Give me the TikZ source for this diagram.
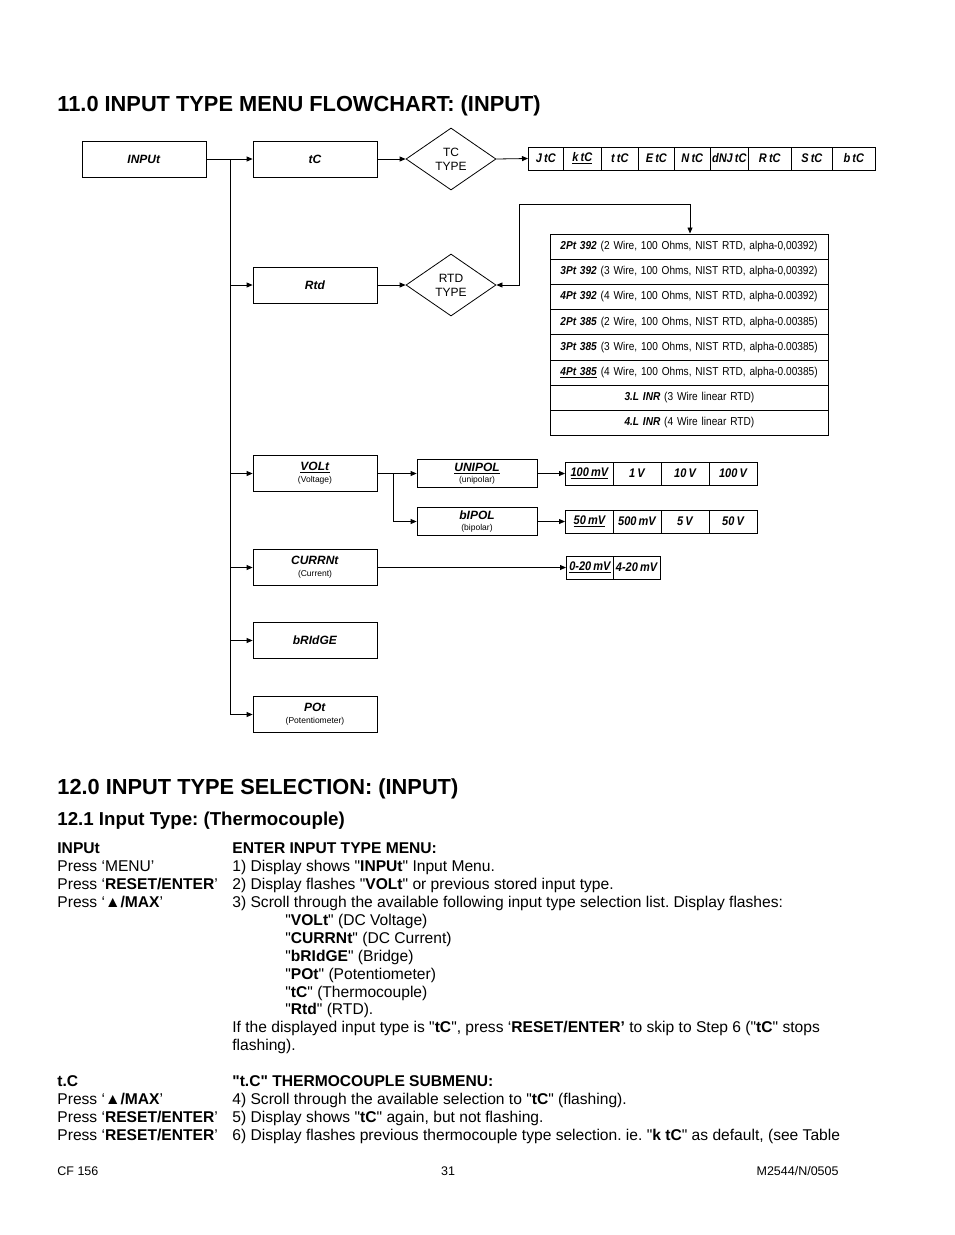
\documentclass[tikz,border=0pt]{standalone}
\usepackage{fontspec}
\setmainfont{Liberation Sans}[Ligatures=TeXOff]
\newfontfamily\narrowfont{Liberation Sans}[FakeStretch=0.88,WordSpace=0.7,Ligatures=TeXOff]
\usetikzlibrary{arrows.meta,shapes.geometric}
\newcommand\fsz[1]{\fontsize{#1}{#1}\selectfont}
\newcommand\bi[1]{\textbf{\textit{#1}}}
\frenchspacing
\begin{document}
\frenchspacing
\begin{tikzpicture}[x=1pt,y=-1pt,line width=0.8pt,
  arr/.style={-{Triangle[length=6pt,width=5pt]}},
  dbl/.style={{Triangle[length=6pt,width=5pt]}-{Triangle[length=6pt,width=5pt]}},
  box/.style={draw,minimum width=124pt,minimum height=36pt,inner sep=1pt,align=center,font=\fontsize{12}{13}\selectfont},
  sbox/.style={draw,minimum width=120pt,minimum height=28pt,inner sep=1pt,align=center,font=\fontsize{12}{12}\selectfont},
  dia/.style={draw,diamond,minimum width=90pt,minimum height=62pt,inner sep=0pt,align=center,font=\fontsize{12}{14}\selectfont},
  cell/.style={draw,minimum height=23pt,inner sep=0pt,anchor=west,font=\narrowfont\fsz{12.5}},
  rrow/.style={draw,text width=258pt,inner xsep=10pt,inner ysep=0pt,minimum height=25.3pt,anchor=north west,font=\narrowfont\fsz{11.5}},
  txt/.style={anchor=base west,inner sep=0pt,font=\fsz{15.6}},
  hd/.style={anchor=base west,inner sep=0pt,font=\bfseries\fsz{21.8}},
  sub/.style={anchor=base west,inner sep=0pt,font=\bfseries\fsz{18.7}},
  foot/.style={anchor=base,inner sep=0pt,font=\fsz{12.5}}]
\useasboundingbox (0,0) rectangle (954,1235);

% headings
\node[hd] (h1) at (57,111) {11.0 INPUT TYPE MENU FLOWCHART: (INPUT)};

% main boxes
\node[box] (input) at (144,159) {\bi{INPUt}};
\node[box] (tc) at (315,159) {\bi{tC}};
\node[dia] (tctype) at (451,159) {TC\\TYPE};
\node[box] (rtd) at (315,285) {\bi{Rtd}};
\node[dia] (rtdtype) at (451,285) {RTD\\TYPE};
\node[box] (volt) at (315,473.5) {\underline{\bi{VOLt}}\\[-1pt]{\fsz{8.5}(Voltage)}};
\node[box] (currnt) at (315,567.5) {\bi{CURRNt}\\[-1pt]{\fsz{8.5}(Current)}};
\node[box] (bridge) at (315,640.5) {\bi{bRIdGE}};
\node[box] (pot) at (315,714.5) {\bi{POt}\\[-1pt]{\fsz{8.5}(Potentiometer)}};

% spine
\coordinate (sp) at (230,159);
\coordinate (spb) at (230,714.5);
\draw[arr] (input.east) -- (tc.west);
\draw (sp) -- (spb);
\foreach \b in {rtd,volt,currnt,bridge,pot}
  \draw[arr] (sp |- \b.west) -- (\b.west);

% TC list
\foreach \a/\c/\t [count=\i] in {528/563/J tC,563/601/\underline{k tC},601/638/t tC,638/674/E tC,674/710/N tC,710/748/dNJ tC,748/791/R tC,791/832/S tC,832/875/b tC}{
  \pgfmathsetmacro\w{\c-\a}
  \node[cell,minimum width=\w pt] (tl\i) at (\a,158.5) {\bi{\t}};
}
\draw[arr] (tc.east) -- (tctype.west);
\draw[arr] (tctype.east) -- (tl1.west);

% RTD list
\foreach \t/\al [count=\i] in {
  {\bi{2Pt 392} (2 Wire, 100 Ohms, NIST RTD, alpha-0,00392)}/left,
  {\bi{3Pt 392} (3 Wire, 100 Ohms, NIST RTD, alpha-0,00392)}/left,
  {\bi{4Pt 392} (4 Wire, 100 Ohms, NIST RTD, alpha-0.00392)}/left,
  {\bi{2Pt 385} (2 Wire, 100 Ohms, NIST RTD, alpha-0.00385)}/left,
  {\bi{3Pt 385} (3 Wire, 100 Ohms, NIST RTD, alpha-0.00385)}/left,
  {\underline{\bi{4Pt 385}} (4 Wire, 100 Ohms, NIST RTD, alpha-0.00385)}/left,
  {\bi{3.L INR} (3 Wire linear RTD)}/center,
  {\bi{4.L INR} (4 Wire linear RTD)}/center}{
  \node[rrow,align=\al] (r\i) at ({550},{233.5+(\i-1)*25.2}) {\t};
}
\draw[arr] (rtd.east) -- (rtdtype.west);
\coordinate (rj) at (519,204);
\coordinate (rtop) at (690,204);
\draw[dbl] (rtdtype.east) -| (rj) -| (rtop |- r1.north);

% Voltage
\node[sbox] (unipol) at (477,473.5) {\underline{\bi{UNIPOL}}\\[-1pt]{\fsz{8.5}(unipolar)}};
\node[sbox] (bipol) at (477,521.5) {\bi{bIPOL}\\[-1pt]{\fsz{8.5}(bipolar)}};
\coordinate (vb) at (393,473.5);
\draw[arr] (volt.east) -- (unipol.west);
\draw[arr] (vb) |- (bipol.west);
\foreach \a/\c/\t [count=\i] in {565/613/\underline{100 mV},613/661/1 V,661/709/10 V,709/757/100 V}{
  \pgfmathsetmacro\w{\c-\a}
  \node[cell,minimum width=\w pt] (u\i) at (\a,473.5) {\bi{\t}};
}
\foreach \a/\c/\t [count=\i] in {565/613/\underline{50 mV},613/661/500 mV,661/709/5 V,709/757/50 V}{
  \pgfmathsetmacro\w{\c-\a}
  \node[cell,minimum width=\w pt] (b\i) at (\a,521.5) {\bi{\t}};
}
\draw[arr] (unipol.east) -- (u1.west);
\draw[arr] (bipol.east) -- (b1.west);

% Current
\foreach \a/\c/\t [count=\i] in {566/613/\underline{0-20 mV},613/660/4-20 mV}{
  \pgfmathsetmacro\w{\c-\a}
  \node[cell,minimum width=\w pt] (c\i) at (\a,567.5) {\bi{\t}};
}
\draw[arr] (currnt.east) -- (c1.west);

% Section 12
\node[hd] (h2) at (57,794) {12.0 INPUT TYPE SELECTION: (INPUT)};
\node[sub] (h3) at (57,825.5) {12.1 Input Type: (Thermocouple)};

\node[txt] (a1) at (57,853.5) {\textbf{INPUt}};
\node[txt] (b1t) at (232,853.5) {\textbf{ENTER INPUT TYPE MENU:}};
\node[txt] (a2) at (57,871.5) {Press ‘MENU’};
\node[txt] (b2t) at (232,871.5) {1) Display shows "\textbf{INPUt}" Input Menu.};
\node[txt] (a3) at (57,889.5) {Press ‘\textbf{RESET/ENTER}’};
\node[txt] (b3t) at (232,889.5) {2) Display flashes "\textbf{VOLt}" or previous stored input type.};
\node[txt] (a4) at (57,907.5) {Press ‘\textbf{▲/MAX}’};
\node[txt] (b4t) at (232,907.5) {3) Scroll through the available following input type selection list. Display flashes:};
\node[txt] (i1) at (285,925.5) {"\textbf{VOLt}" (DC Voltage)};
\node[txt] (i2) at (285,943.5) {"\textbf{CURRNt}" (DC Current)};
\node[txt] (i3) at (285,961.5) {"\textbf{bRIdGE}" (Bridge)};
\node[txt] (i4) at (285,979.5) {"\textbf{POt}" (Potentiometer)};
\node[txt] (i5) at (285,997.5) {"\textbf{tC}" (Thermocouple)};
\node[txt] (i6) at (285,1014.5) {"\textbf{Rtd}" (RTD).};
\node[txt] (p1) at (232,1032.5) {If the displayed input type is "\textbf{tC}", press ‘\textbf{RESET/ENTER’} to skip to Step 6 ("\textbf{tC}" stops};
\node[txt] (p2) at (232,1050.5) {flashing).};
\node[txt] (a5) at (57,1086.5) {\textbf{t.C}};
\node[txt] (b5t) at (232,1086.5) {\textbf{"t.C" THERMOCOUPLE SUBMENU:}};
\node[txt] (a6) at (57,1104.5) {Press ‘\textbf{▲/MAX}’};
\node[txt] (b6t) at (232,1104.5) {4) Scroll through the available selection to "\textbf{tC}" (flashing).};
\node[txt] (a7) at (57,1122.5) {Press ‘\textbf{RESET/ENTER}’};
\node[txt] (b7t) at (232,1122.5) {5) Display shows "\textbf{tC}" again, but not flashing.};
\node[txt] (a8) at (57,1140.5) {Press ‘\textbf{RESET/ENTER}’};
\node[txt] (b8t) at (232,1140.5) {6) Display flashes previous thermocouple type selection. ie. "\textbf{k tC}" as default, (see Table};

% footer
\node[foot,anchor=base west] (f1) at (57,1175.5) {CF 156};
\node[foot] (f2) at (448,1175.5) {31};
\node[foot,anchor=base east] (f3) at (839,1175.5) {M2544/N/0505};
\end{tikzpicture}
\end{document}
